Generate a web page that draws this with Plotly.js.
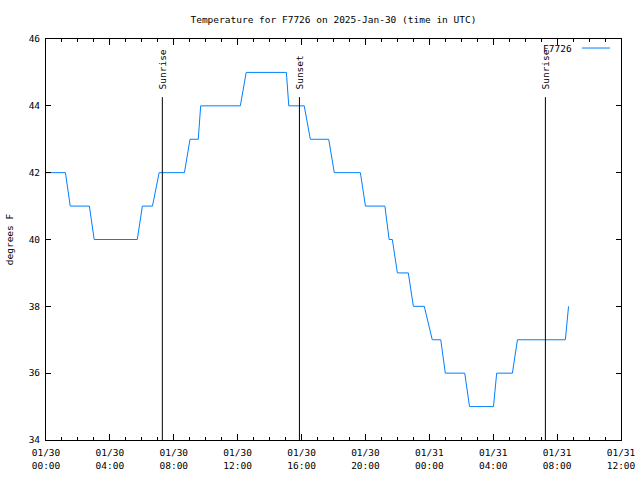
<!DOCTYPE html>
<html>
<head>
<meta charset="utf-8">
<script src="https://cdn.plot.ly/plotly-3.0.1.min.js"></script>
<style>html,body{margin:0;padding:0;background:#fff;}</style>
</head>
<body>
<div id="chart" style="width:640px;height:480px;"></div>
<script>
// Temperature readings (degrees F), times in UTC
const times = [
  '2025-01-30 00:00','2025-01-30 01:13','2025-01-30 01:31','2025-01-30 02:43','2025-01-30 03:01',
  '2025-01-30 05:43','2025-01-30 06:02','2025-01-30 06:40','2025-01-30 07:05','2025-01-30 08:40',
  '2025-01-30 09:01','2025-01-30 09:32','2025-01-30 09:41','2025-01-30 12:10','2025-01-30 12:32',
  '2025-01-30 15:03','2025-01-30 15:12','2025-01-30 16:10','2025-01-30 16:33','2025-01-30 17:42',
  '2025-01-30 18:03','2025-01-30 19:41','2025-01-30 20:00','2025-01-30 21:13','2025-01-30 21:29',
  '2025-01-30 21:41','2025-01-30 22:00','2025-01-30 22:41','2025-01-30 23:00','2025-01-30 23:41',
  '2025-01-31 00:11','2025-01-31 00:43','2025-01-31 01:00','2025-01-31 02:13','2025-01-31 02:31',
  '2025-01-31 04:01','2025-01-31 04:13','2025-01-31 05:12','2025-01-31 05:31','2025-01-31 08:31',
  '2025-01-31 08:43'
];
const temps = [
  42, 42, 41, 41, 40,
  40, 41, 41, 42, 42,
  43, 43, 44, 44, 45,
  45, 44, 44, 43, 43,
  42, 42, 41, 41, 40,
  40, 39, 39, 38, 38,
  37, 37, 36, 36, 35,
  35, 36, 36, 37, 37,
  38
];
const seriesName = 'F7726';

// Sun events
const eventTimes = ['2025-01-30 07:17', '2025-01-30 15:52', '2025-01-31 07:16'];
const eventLabels = ['Sunrise', 'Sunset', 'Sunrise'];

// Axis ticks
const xTickVals = [
  '2025-01-30 00:00','2025-01-30 04:00','2025-01-30 08:00','2025-01-30 12:00','2025-01-30 16:00',
  '2025-01-30 20:00','2025-01-31 00:00','2025-01-31 04:00','2025-01-31 08:00','2025-01-31 12:00'
];
const xTickText = [
  '01/30<br>00:00','01/30<br>04:00','01/30<br>08:00','01/30<br>12:00','01/30<br>16:00',
  '01/30<br>20:00','01/31<br>00:00','01/31<br>04:00','01/31<br>08:00','01/31<br>12:00'
];
const yTickVals = [34, 36, 38, 40, 42, 44, 46];

const FONT = 'DejaVu Sans Mono, monospace';
const LINE_COLOR = '#0080ff';
const EVENT_TOP = 0.855;   // paper fraction where event lines end
const LABEL_BOTTOM = 0.87; // paper fraction where event labels start

const shapes = eventTimes.map(t => ({
  type: 'line', xref: 'x', yref: 'paper', x0: t, x1: t, y0: 0, y1: EVENT_TOP,
  line: {color: '#000', width: 1}
}));
const annotations = eventTimes.map((t, i) => ({
  xref: 'x', yref: 'paper', x: t, y: LABEL_BOTTOM, text: eventLabels[i],
  textangle: -90, showarrow: false, xanchor: 'center', yanchor: 'bottom',
  font: {family: FONT, size: 9.5, color: '#000'}
}));
// legend (text then line sample, gnuplot style)
annotations.push({
  xref: 'paper', yref: 'paper', x: 0.919, y: 0.9775, text: seriesName,
  showarrow: false, xanchor: 'right', yanchor: 'middle',
  font: {family: FONT, size: 9.5, color: '#000'}
});
shapes.push({
  type: 'line', xref: 'paper', yref: 'paper', x0: 0.932, x1: 0.981, y0: 0.9775, y1: 0.9775,
  line: {color: LINE_COLOR, width: 1}
});

const trace = {
  x: times, y: temps, type: 'scatter', mode: 'lines', name: seriesName,
  line: {color: LINE_COLOR, width: 1}
};

const layout = {
  width: 640, height: 480,
  margin: {l: 46, r: 19, t: 39, b: 40, pad: 0},
  paper_bgcolor: '#fff', plot_bgcolor: '#fff',
  showlegend: false,
  font: {family: FONT, size: 9.5, color: '#000'},
  title: {
    text: 'Temperature for F7726 on 2025-Jan-30 (time in UTC)',
    x: 0.521, xref: 'container', xanchor: 'center',
    y: 1 - 20/480, yref: 'container', yanchor: 'middle',
    font: {family: FONT, size: 9.5, color: '#000'}
  },
  xaxis: {
    type: 'date',
    range: ['2025-01-30 00:00', '2025-01-31 12:00'],
    tickmode: 'array', tickvals: xTickVals, ticktext: xTickText,
    ticks: 'inside', ticklen: 6, tickwidth: 1, tickcolor: '#000',
    ticklabelstandoff: 4,
    minor: {dtick: 3600000, tick0: '2025-01-30 00:00', ticks: 'inside', ticklen: 3, tickcolor: '#000', showgrid: false},
    showline: true, linecolor: '#000', linewidth: 1, mirror: 'allticks',
    showgrid: false, zeroline: false,
    tickfont: {family: FONT, size: 9.5, color: '#000'}
  },
  yaxis: {
    range: [34, 46],
    tickmode: 'array', tickvals: yTickVals,
    ticks: 'inside', ticklen: 5, tickwidth: 1, tickcolor: '#000',
    ticklabelstandoff: 3,
    showline: true, linecolor: '#000', linewidth: 1, mirror: 'allticks',
    showgrid: false, zeroline: false,
    tickfont: {family: FONT, size: 9.5, color: '#000'},
    title: {text: 'degrees F', standoff: 13, font: {family: FONT, size: 9.5, color: '#000'}}
  },
  shapes: shapes,
  annotations: annotations
};

Plotly.newPlot('chart', [trace], layout, {staticPlot: true, displayModeBar: false});
</script>
</body>
</html>
